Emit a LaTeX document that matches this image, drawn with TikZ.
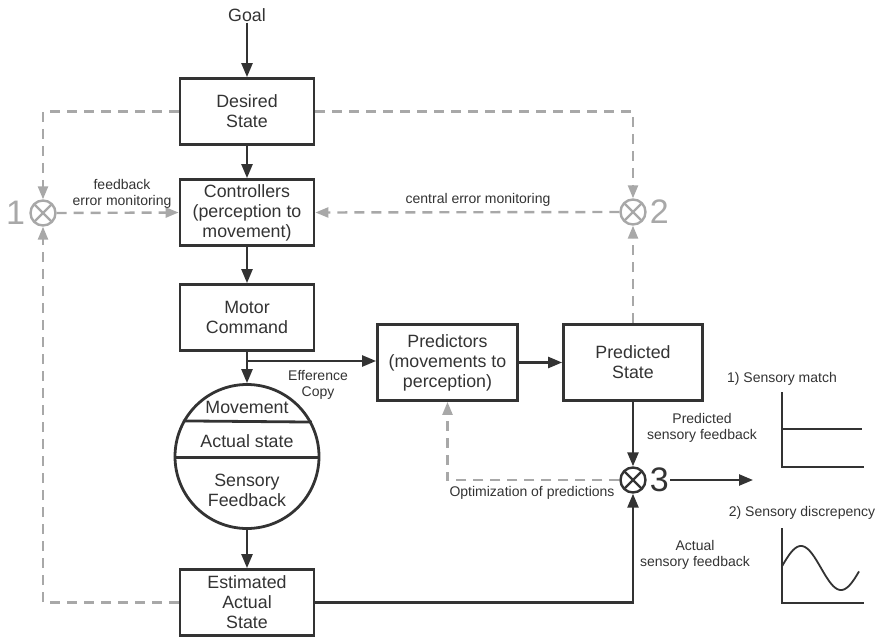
\documentclass[tikz,border=0pt]{standalone}
\usepackage{fontspec}
\setmainfont{Liberation Sans}
\usepackage{tikz}
\usetikzlibrary{arrows.meta}
\definecolor{ink}{HTML}{333333}
\definecolor{fbgray}{HTML}{A8A8A8}

\begin{document}
\begin{tikzpicture}[x=1pt,y=-1pt,
	every node/.style={text=ink,inner sep=1pt},
	box/.style={shape=rectangle,draw=ink,line width=2.8pt,align=center,minimum width=134pt,minimum height=66pt,font=\fontsize{17.8}{20}\selectfont},
	big/.style={font=\fontsize{17.8}{20}\selectfont,align=center},
	lbl/.style={font=\fontsize{14}{16.5}\selectfont,align=center},
	num/.style={font=\fontsize{34}{34}\selectfont},
	comp/.style={shape=circle,draw=#1,line width=2.4pt,minimum size=25pt,inner sep=0pt,
		path picture={\draw[#1,line width=2.4pt] (path picture bounding box.north west) -- (path picture bounding box.south east)
			(path picture bounding box.north east) -- (path picture bounding box.south west);}},
	arr/.style={ink,line width=2.5pt,-{Triangle[length=14pt,width=11pt]}},
	fb/.style={fbgray,line width=2.4pt,dash pattern=on 10pt off 7pt,-{Triangle[length=13pt,width=10pt]}},
	plotline/.style={ink,line width=1.8pt}]
\useasboundingbox (0,0) rectangle (881,639);

\node[big] (goal) at (247,15) {Goal};
\node[box] (desired) at (247,111.5) {Desired\\State};
\node[box] (ctrl) at (247,212.5) {Controllers\\(perception to\\movement)};
\node[box] (motor) at (247,317.5) {Motor\\Command};
\node[box,minimum width=140pt,minimum height=76pt] (predictors) at (447.5,362.5) {Predictors\\(movements to\\perception)};
\node[box,minimum width=139pt,minimum height=76pt] (predicted) at (633,362.5) {Predicted\\State};
\node[shape=circle,draw=ink,line width=2.8pt,minimum size=144pt,inner sep=0pt] (body) at (247,456.5) {};
\node[big] (movement) at (247,407) {Movement};
\node[big] (actual) at (247,441) {Actual state};
\node[big] (sensory) at (247,490) {Sensory\\Feedback};
\node[box] (estimated) at (247,602.5) {Estimated\\Actual\\State};
\draw[ink,line width=2.8pt] (body.151.1) -- (body.28.9);
\draw[ink,line width=2.8pt] (body.181.2) -- (body.-1.2);

\node[comp=fbgray] (c1) at (43,213) {};
\node[comp=fbgray] (c2) at (633,212) {};
\node[comp=ink] (c3) at (633,480) {};
\node[num,text=fbgray,anchor=east,xshift=-3pt] (n1) at (c1.west) {1};
\node[num,text=fbgray,anchor=west,xshift=2pt] (n2) at (c2.east) {2};
\node[num,anchor=west,xshift=2pt] (n3) at (c3.east) {3};
\coordinate (split) at (247,361);
\coordinate (out) at (753,480);

\draw[arr] (goal) -- (desired);
\draw[arr] (desired) -- (ctrl);
\draw[arr] (ctrl) -- (motor);
\draw[arr] (motor) -- (body);
\draw[arr] (split) -- (split -| predictors.west);
\draw[arr] (predictors) -- (predicted);
\draw[arr] (body) -- (estimated);
\draw[arr] (predicted) -- (c3);
\draw[arr] (estimated.east) -| (c3.south);
\draw[arr] (n3) -- (out);

\draw[fb] (desired.west) -| (c1.north);
\draw[fb] (desired.east) -| (c2.north);
\draw[fb] (estimated.west) -| (c1.south);
\draw[fb] (c1.east) -- (ctrl.west);
\draw[fb] (c2.west) -- (ctrl.east);
\draw[fb] (predicted.north) -- (c2.south);
\draw[fb] (c3.west) -| (predictors.south);

\node[lbl] (fbmon) at (122,194) {feedback\\error monitoring};
\node[lbl] (central) at (478,200) {central error monitoring};
\node[lbl] (effcopy) at (318,385) {Efference\\Copy};
\node[lbl] (predfb) at (702,428) {Predicted\\sensory feedback};
\node[lbl] (optim) at (532,493) {Optimization of predictions};
\node[lbl] (actfb) at (695,555) {Actual\\sensory feedback};
\node[lbl] (match) at (782,379) {1) Sensory match};
\node[lbl] (discr) at (802,513) {2) Sensory discrepency};

\draw[plotline] (782,392) -- (782,467) -- (864,467);
\draw[plotline] (782,429) -- (862,429);
\draw[plotline] (782,528) -- (782,603) -- (864,603);
\draw[plotline] plot[domain=782:859,samples=80,smooth] (\x,{568-22*sin((\x-781)*4.5)});
\end{tikzpicture}
\end{document}
